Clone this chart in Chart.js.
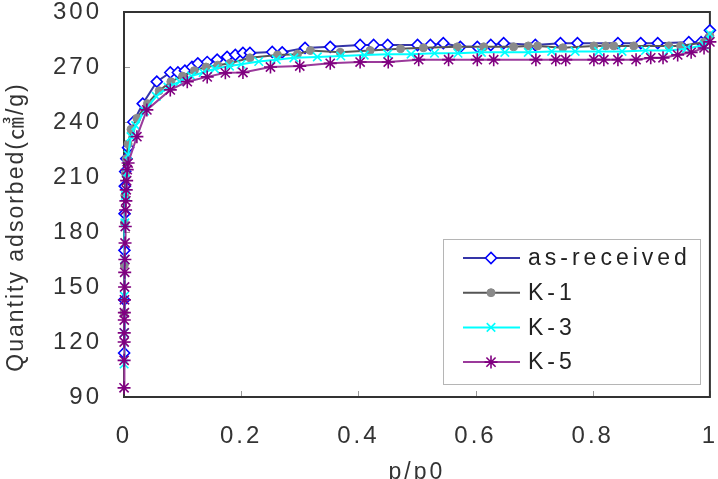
<!DOCTYPE html>
<html>
<head>
<meta charset="utf-8">
<script src="https://cdn.jsdelivr.net/npm/chart.js@4"></script>
<style>
  body { margin: 0; background: #fff; }
  canvas { display: block; }
</style>
</head>
<body>
<canvas id="isotherm" width="718" height="479"></canvas>
<script>
// p/p0 and quantity adsorbed for each sample
const pAsReceived = [0.0002, 0.0004, 0.0007, 0.001, 0.0014, 0.002, 0.004, 0.007, 0.016,
  0.032, 0.056, 0.079, 0.092, 0.104, 0.116, 0.126, 0.142, 0.159, 0.176, 0.19,
  0.203, 0.215, 0.253, 0.27, 0.309, 0.352, 0.403, 0.426, 0.45,
  0.501, 0.523, 0.545, 0.574, 0.603, 0.626, 0.648,
  0.702, 0.745, 0.774, 0.843, 0.882, 0.911, 0.964, 0.985, 1.0];
const qAsReceived = [114, 143, 170, 190, 205, 213, 220, 226, 240,
  250, 262, 267, 267, 268, 270, 272, 272.7, 274, 275.5, 276.6,
  277.7, 277.7, 278.2, 278, 280.4, 281, 282, 282, 282,
  282, 282, 283, 281, 281, 282, 283,
  282, 283, 283, 283, 283, 283, 283.5, 283.5, 290];

const pK1 = [0.0003, 0.0006, 0.001, 0.0015, 0.0025, 0.004, 0.007, 0.012,
  0.022, 0.04, 0.06, 0.08, 0.1, 0.12, 0.14, 0.16,
  0.181, 0.215, 0.262, 0.296, 0.318, 0.369, 0.42, 0.472, 0.511, 0.569,
  0.614, 0.665, 0.69, 0.706, 0.749, 0.802, 0.822, 0.836, 0.87, 0.93, 0.95, 0.99, 1.0];
const qK1 = [136, 162, 185, 200, 212, 220, 228, 236,
  242, 250, 257, 262, 265, 268, 270, 271,
  272, 275, 276.6, 277, 279, 278, 279, 280, 280.5, 281,
  281, 281, 281.5, 281.5, 280.5, 281.5, 281.5, 281.5, 281.5, 281.5, 281.5, 283.5, 287];

const pK3 = [0.0002, 0.0004, 0.0007, 0.001, 0.0015, 0.0025, 0.004, 0.007, 0.012,
  0.02, 0.035, 0.055, 0.075, 0.095, 0.115, 0.135, 0.155, 0.18, 0.2,
  0.23, 0.26, 0.29, 0.33, 0.37, 0.41, 0.45, 0.49, 0.53, 0.57,
  0.61, 0.65, 0.69, 0.73, 0.77, 0.81, 0.85, 0.89, 0.93, 0.96, 0.99, 1.0];
const qK3 = [108, 125, 145, 165, 185, 200, 212, 222, 232,
  238, 246, 254, 259, 262, 265, 267, 269, 270.5, 271.5,
  273, 274, 275, 275.5, 276, 276.5, 277, 277, 277.5, 277.5,
  278, 278, 278, 278.5, 278.5, 278.5, 278.5, 279, 279, 280, 282, 288];

const pK5 = [0.0001, 0.0002, 0.0003, 0.0004, 0.0005, 0.0006, 0.0008, 0.001, 0.0012,
  0.0015, 0.0018, 0.0022, 0.0027, 0.0032, 0.0038, 0.0045, 0.0055, 0.007,
  0.022, 0.039, 0.079, 0.108, 0.142, 0.173, 0.203, 0.25, 0.3, 0.352, 0.403, 0.451,
  0.503, 0.554, 0.603, 0.631, 0.703, 0.737, 0.754, 0.802, 0.819, 0.843, 0.874,
  0.899, 0.92, 0.945, 0.968, 0.99, 1.0];
const qK5 = [95, 110, 120, 125, 132, 136, 143, 150, 158,
  165, 174, 183, 192, 197, 203, 208, 214, 217.6,
  232, 246.6, 257.5, 262, 264.6, 266.8, 267, 270, 270.5, 272, 272.7, 272.7,
  274, 274, 274, 274, 274, 274, 274, 274, 274, 274, 274,
  275, 275, 276.6, 278, 280.4, 283.7];

const xTicks = [0, 0.2, 0.4, 0.6, 0.8, 1];
const yTicks = [90, 120, 150, 180, 210, 240, 270, 300];
const yTitle = 'Quantity adsorbed(㎤/g)';

const toPoints = (px, qy) => px.map((p, i) => ({ x: p, y: qy[i] }));
const FONT = '"Liberation Sans", Arial, "Noto Sans CJK KR", sans-serif';
const noPad = s => { s.paddingTop = s.paddingBottom = s.paddingLeft = s.paddingRight = 0; };

// frame, inward tick marks, y title and the boxed legend inside the plot
const framePlugin = {
  id: 'frame',
  beforeLayout(chart) { chart.ctx.letterSpacing = '3px'; },
  beforeDraw(chart) { chart.ctx.letterSpacing = '3px'; },
  beforeDatasetsDraw(chart) {
    const { ctx, chartArea: a, scales } = chart;
    ctx.save();
    ctx.strokeStyle = '#999';
    ctx.lineWidth = 1;
    ctx.beginPath();
    scales.y.ticks.forEach(t => {
      const y = Math.round(scales.y.getPixelForValue(t.value)) + 0.5;
      ctx.moveTo(a.left, y); ctx.lineTo(a.left + 6, y);
    });
    scales.x.ticks.forEach(t => {
      const x = Math.round(scales.x.getPixelForValue(t.value)) + 0.5;
      ctx.moveTo(x, a.bottom); ctx.lineTo(x, a.bottom - 6);
    });
    ctx.stroke();
    ctx.strokeStyle = '#333';
    ctx.lineWidth = 2;
    ctx.strokeRect(a.left, a.top, a.right - a.left, a.bottom - a.top);

    // y axis title, centred a bit lower than the plot like the original
    ctx.translate(17, 227);
    ctx.rotate(-Math.PI / 2);
    ctx.letterSpacing = '2px';
    ctx.fillStyle = '#333';
    ctx.font = '23px ' + FONT;
    ctx.textAlign = 'center';
    ctx.textBaseline = 'middle';
    ctx.fillText(yTitle, 0, 0);
    ctx.restore();
  },
  afterDraw(chart) {
    const { ctx } = chart;
    ctx.save();
    ctx.fillStyle = '#fff';
    ctx.fillRect(443, 239, 257, 145);
    ctx.strokeStyle = '#b5b5b5';
    ctx.lineWidth = 1;
    ctx.strokeRect(443.5, 239.5, 257, 145);
    chart.data.datasets.forEach((ds, i) => {
      const y = 258 + i * 34.7;
      ctx.strokeStyle = ds.borderColor;
      ctx.lineWidth = ds.borderWidth;
      ctx.beginPath();
      ctx.moveTo(463, y); ctx.lineTo(520, y);
      ctx.stroke();
      ctx.fillStyle = ds.pointBackgroundColor;
      ctx.strokeStyle = ds.pointBorderColor;
      ctx.lineWidth = ds.pointBorderWidth;
      Chart.helpers.drawPoint(ctx, {
        pointStyle: ds.pointStyle, radius: ds.pointRadius,
        rotation: 0, borderWidth: ds.pointBorderWidth
      }, 491, y);
      ctx.letterSpacing = '4px';
      ctx.fillStyle = '#222';
      ctx.font = '23px ' + FONT;
      ctx.textBaseline = 'middle';
      ctx.textAlign = 'left';
      ctx.fillText(ds.label, 528, y + 1);
    });
    ctx.restore();
  }
};

const ctx = document.getElementById('isotherm').getContext('2d');

new Chart(ctx, {
  type: 'line',
  data: {
    datasets: [
      {
        label: 'as-received', data: toPoints(pAsReceived, qAsReceived), order: 4,
        borderColor: '#3535a8', borderWidth: 2,
        pointStyle: 'rectRot', pointRadius: 5.5, pointBorderWidth: 1.6,
        pointBorderColor: '#0000ff', pointBackgroundColor: '#fff'
      },
      {
        label: 'K-1', data: toPoints(pK1, qK1), order: 3,
        borderColor: '#555', borderWidth: 2,
        pointStyle: 'circle', pointRadius: 4, pointBorderWidth: 1,
        pointBorderColor: '#8a8a8a', pointBackgroundColor: '#8a8a8a'
      },
      {
        label: 'K-3', data: toPoints(pK3, qK3), order: 2,
        borderColor: '#00ffff', borderWidth: 2,
        pointStyle: 'crossRot', pointRadius: 6, pointBorderWidth: 1.6,
        pointBorderColor: '#00ffff', pointBackgroundColor: '#00ffff'
      },
      {
        label: 'K-5', data: toPoints(pK5, qK5), order: 1,
        borderColor: '#9b3a9b', borderWidth: 2,
        pointStyle: 'star', pointRadius: 6.5, pointBorderWidth: 1.6,
        pointBorderColor: '#800080', pointBackgroundColor: '#800080'
      }
    ]
  },
  options: {
    responsive: false,
    animation: false,
    devicePixelRatio: 1,
    clip: false,
    tension: 0,
    layout: { padding: { left: 0, right: 7, top: 12, bottom: 0 } },
    plugins: { legend: { display: false }, tooltip: { enabled: false } },
    scales: {
      x: {
        type: 'linear', min: 0, max: 1,
        afterBuildTicks: s => { s.ticks = xTicks.map(v => ({ value: v })); },
        afterFit: s => { s.height = 82; noPad(s); },
        grid: { display: false, drawTicks: false },
        border: { display: false },
        ticks: {
          padding: 25, color: '#333', font: { family: FONT, size: 24 },
          callback: v => String(+v.toFixed(1))
        },
        title: {
          display: true, text: 'p/p0', color: '#333',
          font: { family: FONT, size: 23 }, padding: { top: 0, bottom: -7 }
        }
      },
      y: {
        type: 'linear', min: 90, max: 300,
        afterBuildTicks: s => { s.ticks = yTicks.map(v => ({ value: v })); },
        afterFit: s => { s.width = 124; noPad(s); },
        grid: { display: false, drawTicks: false },
        border: { display: false },
        ticks: { padding: 22, color: '#333', font: { family: FONT, size: 24 } },
        title: { display: false }
      }
    }
  },
  plugins: [framePlugin]
});
</script>
</body>
</html>
